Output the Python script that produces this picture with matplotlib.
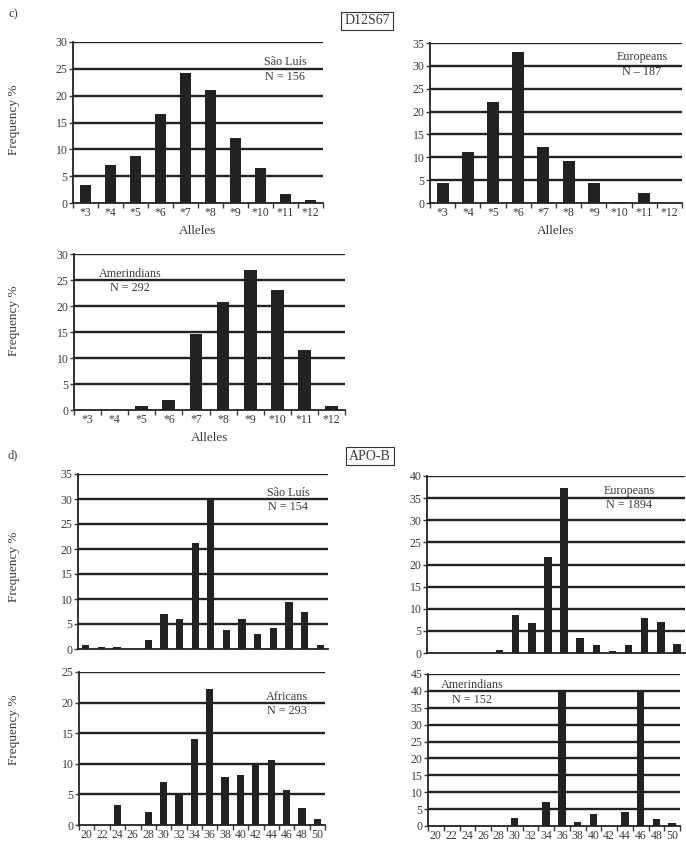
import numpy as np
import matplotlib
matplotlib.use("Agg")
import matplotlib.pyplot as plt

plt.rcParams['font.family'] = ['Liberation Serif', 'DejaVu Serif']
plt.rcParams['text.color'] = '#3a3a3a'
plt.rcParams['axes.labelcolor'] = '#3a3a3a'
plt.rcParams['xtick.color'] = '#3a3a3a'
plt.rcParams['ytick.color'] = '#3a3a3a'

# D12S67 alleles
d12_alleles = ['*3', '*4', '*5', '*6', '*7', '*8', '*9', '*10', '*11', '*12']
d12_saoluis = [3.3, 7.0, 8.8, 16.5, 24.2, 21.0, 12.1, 6.5, 1.7, 0.5]
d12_europeans = [4.3, 11.1, 22.0, 33.1, 12.2, 9.2, 4.3, 0.3, 2.1, 0.0]
d12_amerindians = [0.0, 0.0, 0.7, 1.9, 14.6, 20.8, 27.0, 23.0, 11.6, 0.7]

# APO-B alleles
apob_alleles = ['20', '22', '24', '26', '28', '30', '32', '34', '36', '38',
                '40', '42', '44', '46', '48', '50']
apob_saoluis = [0.8, 0.5, 0.5, 0.0, 1.9, 7.0, 6.1, 21.2, 29.9, 3.9,
                6.1, 3.0, 4.3, 9.4, 7.4, 0.8]
apob_europeans = [0.0, 0.0, 0.0, 0.0, 0.6, 8.6, 6.8, 21.6, 37.2, 3.5,
                  1.9, 0.45, 1.9, 8.0, 7.1, 2.1]
apob_africans = [0.0, 0.0, 3.3, 0.0, 2.2, 7.0, 5.0, 14.0, 22.2, 7.9,
                 8.1, 10.2, 10.6, 5.8, 2.7, 0.9]
apob_amerindians = [0.0, 0.0, 0.0, 0.0, 0.0, 2.5, 0.0, 7.1, 40.0, 1.2,
                    3.6, 0.0, 4.2, 40.0, 2.2, 0.9]

W, H = 686, 842
fig = plt.figure(figsize=(W / 100, H / 100), dpi=100)


def px_axes(left, top, right, bottom):
    return fig.add_axes([left / W, 1 - bottom / H, (right - left) / W, (bottom - top) / H])


def bar_panel(ax, labels, values, ymax, label, lx, ly, show_xticks=True, xlabel=None):
    n = len(labels)
    x = np.arange(n)
    ax.bar(x, values, width=0.47, color='#222222', zorder=3)
    ax.set_xlim(-0.5, n - 0.5)
    ax.set_ylim(0, ymax)
    yt = np.arange(0, ymax + 1, 5)
    ax.set_yticks(yt)
    for v in yt[1:]:
        ax.axhline(v, color='#222222', lw=1.7, zorder=2)
    for s in ['top', 'right']:
        ax.spines[s].set_visible(False)
    for s in ['left', 'bottom']:
        ax.spines[s].set_linewidth(1.3)
        ax.spines[s].set_color('#222222')
    ax.tick_params(axis='y', length=3, width=1, labelsize=8.5, pad=1)
    if show_xticks:
        ax.set_xticks(x)
        ax.set_xticklabels(labels)
        ax.set_xticks(np.arange(-0.5, n, 1), minor=True)
        ax.tick_params(axis='x', which='major', length=0, labelsize=8.5, pad=3)
        ax.tick_params(axis='x', which='minor', length=3.5, width=1)
    else:
        ax.set_xticks([])
    if xlabel:
        ax.set_xlabel(xlabel, fontsize=9.5, labelpad=4)
    ax.text(lx, ly, label, transform=ax.transAxes, ha='center', va='center',
            fontsize=8.7, linespacing=1.3)


ax1 = px_axes(73, 42, 323, 203)
bar_panel(ax1, d12_alleles, d12_saoluis, 30, 'São Luís\nN = 156', 0.848, 0.83, xlabel='Alleles')

ax2 = px_axes(430, 43, 682, 203)
bar_panel(ax2, d12_alleles, d12_europeans, 35, 'Europeans\nN – 187', 0.841, 0.866, xlabel='Alleles')

ax3 = px_axes(74, 254, 345, 410)
bar_panel(ax3, d12_alleles, d12_amerindians, 30, 'Amerindians\nN = 292', 0.207, 0.827, xlabel='Alleles')

ax4 = px_axes(78, 474, 328, 649)
bar_panel(ax4, apob_alleles, apob_saoluis, 35, 'São Luís\nN = 154', 0.84, 0.851, show_xticks=False)

ax5 = px_axes(427, 476, 685, 653)
bar_panel(ax5, apob_alleles, apob_europeans, 40, 'Europeans\nN = 1894', 0.783, 0.876, show_xticks=False)

ax6 = px_axes(79, 672, 325, 825)
bar_panel(ax6, apob_alleles, apob_africans, 25, 'Africans\nN = 293', 0.846, 0.79)

ax7 = px_axes(428, 674, 680, 826)
bar_panel(ax7, apob_alleles, apob_amerindians, 45, 'Amerindians\nN = 152', 0.175, 0.88)

for yc in [120, 321, 567, 730]:
    fig.text(14 / W, 1 - yc / H, 'Frequency %', rotation=90, ha='center', va='center', fontsize=9.5)

fig.text(13 / W, 1 - 14 / H, 'c)', ha='center', va='center', fontsize=9)
fig.text(13 / W, 1 - 455 / H, 'd)', ha='center', va='center', fontsize=9)

box = dict(boxstyle='square,pad=0.2', fc='white', ec='#333333', lw=0.8)
fig.text(367 / W, 1 - 21 / H, 'D12S67', ha='center', va='center', fontsize=10, bbox=box)
fig.text(370 / W, 1 - 456 / H, 'APO-B', ha='center', va='center', fontsize=10, bbox=box)

fig.savefig('out.png', dpi=100)
